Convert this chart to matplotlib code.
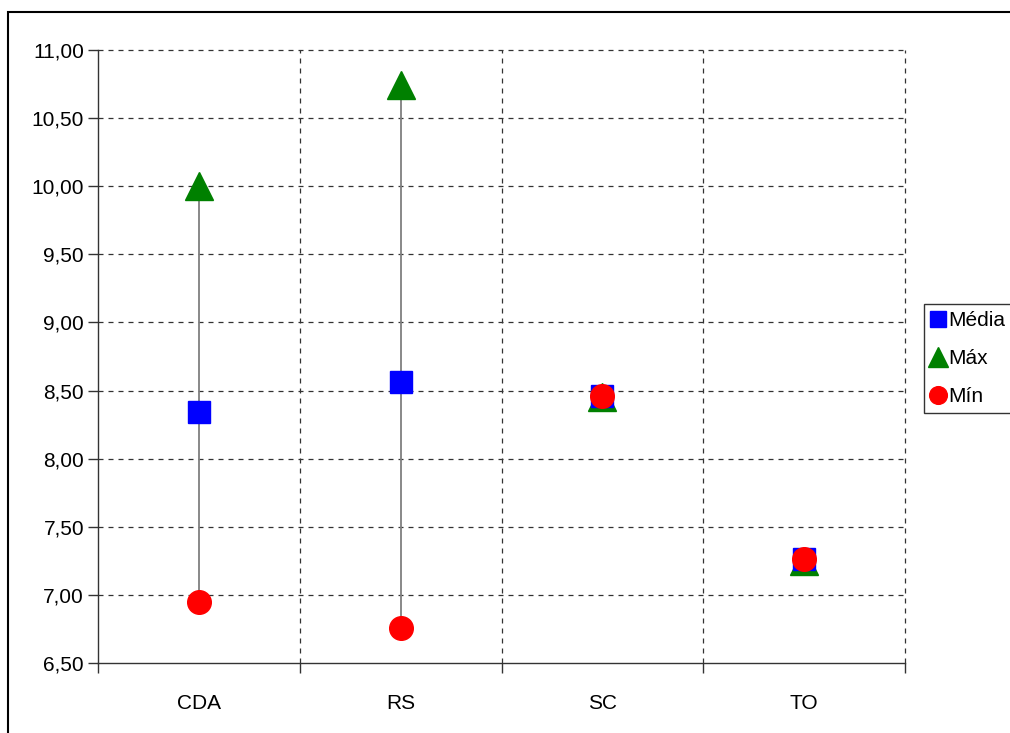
import matplotlib
matplotlib.use("Agg")
import matplotlib.pyplot as plt
from matplotlib.patches import Rectangle
from matplotlib.ticker import FixedLocator, FuncFormatter

plt.rcParams['font.family'] = ['Liberation Sans', 'DejaVu Sans']

categories = ["CDA", "RS", "SC", "TO"]
media = [8.34, 8.56, 8.46, 7.26]
maximo = [10.00, 10.74, 8.45, 7.25]
minimo = [6.95, 6.76, 8.46, 7.26]
y_ticks = [6.5, 7.0, 7.5, 8.0, 8.5, 9.0, 9.5, 10.0, 10.5, 11.0]

fig = plt.figure(figsize=(10.10, 7.33), dpi=100)
ax = fig.add_axes([98/1010, 70/733, (905-98)/1010, (663-50)/733])

x = list(range(1, len(categories) + 1))
boundaries = [0.5, 1.5, 2.5, 3.5, 4.5]

# dashed grid
grid_style = dict(linestyle=(0, (4, 4)), color='#333333', lw=0.9, zorder=1,
                  clip_on=False)
for yv in y_ticks[1:]:
    ax.axhline(yv, **grid_style)
for xv in boundaries[1:]:
    ax.axvline(xv, **grid_style)

# high-low lines
for xi, hi, lo in zip(x, maximo, minimo):
    ax.plot([xi, xi], [lo, hi], color='#7f7f7f', lw=1.3, zorder=2)

ax.plot(x, maximo, linestyle='none', marker='^', ms=20, color='#008000',
        mec='#008000', label='Máx', zorder=3)
ax.plot(x, media, linestyle='none', marker='s', ms=16, color='#0000ff',
        mec='#0000ff', label='Média', zorder=4)
ax.plot(x, minimo, linestyle='none', marker='o', ms=17, color='#ff0000',
        mec='#ff0000', label='Mín', zorder=5)

ax.set_xlim(0.5, 4.5)
ax.set_ylim(6.5, 11.0)

ax.yaxis.set_major_locator(FixedLocator(y_ticks))
ax.yaxis.set_major_formatter(FuncFormatter(lambda v, p: f"{v:.2f}".replace('.', ',')))
ax.xaxis.set_major_locator(FixedLocator(x))
ax.set_xticklabels(categories)
ax.xaxis.set_minor_locator(FixedLocator(boundaries))

ax.tick_params(axis='y', direction='out', length=7, width=1, color='#333333',
               labelsize=15, pad=3)
ax.tick_params(axis='x', which='major', length=0, labelsize=15, pad=22)
ax.tick_params(axis='x', which='minor', direction='out', length=7, width=1,
               color='#333333')

for side in ['top', 'right']:
    ax.spines[side].set_visible(False)
for side in ['left', 'bottom']:
    ax.spines[side].set_color('#333333')
    ax.spines[side].set_linewidth(1.0)
    ax.spines[side].set_zorder(2.5)

handles, labels = ax.get_legend_handles_labels()
order = [1, 0, 2]
leg = fig.legend([handles[i] for i in order], [labels[i] for i in order],
                 loc='upper left', bbox_to_anchor=(924/1010, (733-304)/733),
                 fontsize=15, frameon=True, fancybox=False, edgecolor='black',
                 handlelength=0.6, handletextpad=0.2, borderpad=0.35,
                 labelspacing=0.9, markerscale=0.75, borderaxespad=0)
leg.get_frame().set_linewidth(1.0)

fig.patches.append(Rectangle((8/1010, -0.1), 2.0, (733-12)/733 + 0.1,
                             transform=fig.transFigure, fill=False,
                             edgecolor='black', lw=1.5))

fig.savefig("out.png", dpi=100)
